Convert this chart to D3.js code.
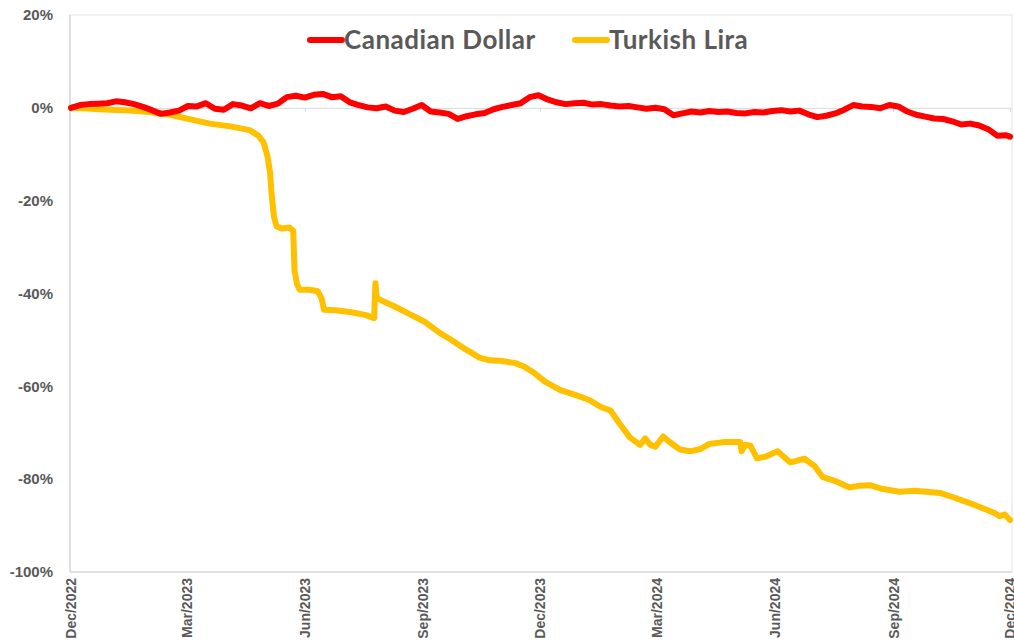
<!DOCTYPE html>
<html>
<head>
<meta charset="utf-8">
<script src="https://cdn.jsdelivr.net/npm/d3@7"></script>
<style>
  body { margin: 0; background: #fff; }
  svg { display: block; font-family: Lato, "Open Sans", sans-serif; }
</style>
</head>
<body>
<svg id="chart" width="1014" height="643"></svg>
<script>
// Canadian Dollar, weekly readings (% change since Dec 2022)
const cadDates = [
  "2022-12-01","2022-12-08","2022-12-15","2022-12-22","2022-12-29","2023-01-05","2023-01-12","2023-01-19","2023-01-26",
  "2023-02-02","2023-02-09","2023-02-16","2023-02-23","2023-03-02","2023-03-09","2023-03-16","2023-03-23","2023-03-30",
  "2023-04-06","2023-04-13","2023-04-20","2023-04-27","2023-05-04","2023-05-11","2023-05-18","2023-05-25","2023-06-01",
  "2023-06-08","2023-06-15","2023-06-22","2023-06-29","2023-07-06","2023-07-13","2023-07-20","2023-07-27","2023-08-03",
  "2023-08-10","2023-08-17","2023-08-24","2023-08-31","2023-09-07","2023-09-14","2023-09-21","2023-09-28","2023-10-05",
  "2023-10-12","2023-10-19","2023-10-26","2023-11-02","2023-11-09","2023-11-16","2023-11-23","2023-11-30","2023-12-07",
  "2023-12-14","2023-12-21","2023-12-28","2024-01-04","2024-01-11","2024-01-18","2024-01-25","2024-02-01","2024-02-08",
  "2024-02-15","2024-02-22","2024-02-29","2024-03-07","2024-03-14","2024-03-21","2024-03-28","2024-04-04","2024-04-11",
  "2024-04-18","2024-04-25","2024-05-02","2024-05-09","2024-05-16","2024-05-23","2024-05-30","2024-06-06","2024-06-13",
  "2024-06-20","2024-06-27","2024-07-04","2024-07-11","2024-07-18","2024-07-25","2024-08-01","2024-08-08","2024-08-15",
  "2024-08-22","2024-08-29","2024-09-05","2024-09-12","2024-09-19","2024-09-26","2024-10-03","2024-10-10","2024-10-17",
  "2024-10-24","2024-10-31","2024-11-07","2024-11-14","2024-11-21","2024-11-28","2024-12-01"
];
const cadValues = [
  0.0, 0.6, 0.8, 0.9, 1.0, 1.4, 1.2, 0.8, 0.2,
  -0.5, -1.3, -1.0, -0.6, 0.4, 0.3, 1.0, -0.2, -0.4,
  0.8, 0.5, -0.1, 1.0, 0.4, 0.9, 2.3, 2.6, 2.2,
  2.8, 3.0, 2.3, 2.5, 1.2, 0.6, 0.1, -0.1, 0.3,
  -0.6, -0.9, -0.2, 0.6, -0.8, -1.0, -1.3, -2.4, -1.8,
  -1.4, -1.1, -0.3, 0.2, 0.6, 1.0, 2.3, 2.7, 1.8,
  1.2, 0.8, 1.0, 1.1, 0.7, 0.8, 0.5, 0.3, 0.4,
  0.1, -0.2, 0.0, -0.3, -1.6, -1.2, -0.8, -1.0, -0.7,
  -0.9, -0.8, -1.1, -1.2, -0.9, -1.0, -0.7, -0.5, -0.8,
  -0.6, -1.4, -2.0, -1.7, -1.2, -0.4, 0.6, 0.3, 0.2,
  -0.1, 0.6, 0.3, -0.8, -1.5, -1.9, -2.3, -2.4, -2.9,
  -3.6, -3.4, -3.8, -4.6, -6.0, -5.9, -6.2
];

// Turkish Lira readings (% change since Dec 2022)
const tryDates = [
  "2022-12-01","2022-12-16","2022-12-31","2023-01-16","2023-01-31","2023-02-16","2023-03-04","2023-03-19","2023-04-04",
  "2023-04-19","2023-04-26","2023-04-30","2023-05-03","2023-05-05","2023-05-06","2023-05-08","2023-05-10","2023-05-14",
  "2023-05-20","2023-05-23","2023-05-24","2023-05-26","2023-05-28","2023-06-05","2023-06-11","2023-06-14","2023-06-16",
  "2023-06-25","2023-07-06","2023-07-18","2023-07-25","2023-07-26","2023-07-27","2023-08-02","2023-08-10","2023-08-22",
  "2023-09-03","2023-09-14","2023-09-22","2023-10-04","2023-10-15","2023-10-23","2023-10-31","2023-11-12","2023-11-19",
  "2023-11-27","2023-12-05","2023-12-17","2023-12-28","2024-01-09","2024-01-17","2024-01-25","2024-02-01","2024-02-09",
  "2024-02-17","2024-02-21","2024-02-25","2024-02-29","2024-03-06","2024-03-11","2024-03-19","2024-03-27","2024-04-04",
  "2024-04-11","2024-04-23","2024-05-05","2024-05-06","2024-05-09","2024-05-13","2024-05-18","2024-05-24","2024-06-03",
  "2024-06-13","2024-06-24","2024-07-02","2024-07-08","2024-07-18","2024-07-29","2024-08-06","2024-08-14","2024-08-22",
  "2024-09-06","2024-09-18","2024-10-08","2024-10-19","2024-11-04","2024-11-19","2024-11-23","2024-11-27","2024-12-01"
];
const tryValues = [
  0.0, -0.2, -0.4, -0.6, -0.9, -1.5, -2.5, -3.4, -4.0,
  -4.8, -6.0, -7.5, -10.5, -14.0, -18.0, -23.5, -25.5, -26.0,
  -25.8, -26.5, -35.0, -38.0, -39.2, -39.2, -39.5, -41.0, -43.5,
  -43.6, -44.0, -44.6, -45.3, -37.8, -41.0, -41.8, -42.8, -44.5,
  -46.2, -48.5, -49.8, -52.0, -53.8, -54.4, -54.5, -55.0, -55.8,
  -57.2, -59.0, -60.8, -61.8, -63.0, -64.4, -65.2, -68.0, -71.0,
  -72.6, -71.2, -72.6, -73.0, -70.8, -72.0, -73.6, -74.0, -73.5,
  -72.4, -72.0, -72.0, -74.0, -72.6, -72.8, -75.5, -75.2, -74.0,
  -76.4, -75.6, -77.2, -79.5, -80.4, -81.8, -81.4, -81.3, -82.0,
  -82.7, -82.5, -83.0, -84.0, -85.6, -87.3, -88.0, -87.6, -88.8
];

const seriesNames = ["Canadian Dollar", "Turkish Lira"];
const seriesColors = ["#ff0000", "#ffc000"];
const yTicks = [20, 0, -20, -40, -60, -80, -100];
const xTicks = ["2022-12-01","2023-03-01","2023-06-01","2023-09-01","2023-12-01","2024-03-01","2024-06-01","2024-09-01","2024-12-01"];

const parse = d3.timeParse("%Y-%m-%d");
const svg = d3.select("#chart");
const plotLeft = 71, plotRight = 1010, plotTop = 15, plotBottom = 572;

const x = d3.scaleTime()
  .domain([parse("2022-12-01"), parse("2024-12-01")])
  .range([plotLeft, plotRight]);
const y = d3.scaleLinear()
  .domain([-100, 20])
  .range([plotBottom, plotTop]);

// plot frame
svg.append("rect")
  .attr("x", plotLeft - 1).attr("y", plotTop)
  .attr("width", plotRight - plotLeft + 3).attr("height", plotBottom - plotTop)
  .attr("fill", "none").attr("stroke", "#e4e4e4");
svg.append("line")
  .attr("x1", plotLeft - 1).attr("x2", plotLeft - 1).attr("y1", plotTop).attr("y2", plotBottom)
  .attr("stroke", "#c9cedd");
svg.append("line")
  .attr("x1", plotLeft - 1).attr("x2", plotRight + 2).attr("y1", plotBottom).attr("y2", plotBottom)
  .attr("stroke", "#c9cedd");

// zero line with small ticks
const zero = svg.append("g").attr("transform", `translate(0,${y(0)})`)
  .call(d3.axisBottom(x).tickValues(xTicks.map(parse)).tickSize(4).tickFormat(""));
zero.select(".domain").attr("stroke", "#d9d9d9");
zero.selectAll(".tick line").attr("stroke", "#d9d9d9");

// y axis
const yAxis = svg.append("g").attr("transform", `translate(${plotLeft - 1},0)`)
  .call(d3.axisLeft(y).tickValues(yTicks).tickSize(0).tickPadding(17).tickFormat(d => d + "%"));
yAxis.select(".domain").remove();
yAxis.selectAll("text")
  .attr("fill", "#595959")
  .style("font-size", "15px")
  .style("font-weight", "bold");

// x axis labels
const xAxis = svg.append("g").attr("transform", `translate(0,${plotBottom})`)
  .call(d3.axisBottom(x).tickValues(xTicks.map(parse)).tickSize(0).tickFormat(d3.timeFormat("%b/%Y")));
xAxis.select(".domain").remove();
xAxis.selectAll("text")
  .attr("transform", "rotate(-90)")
  .attr("x", -6)
  .attr("y", 0)
  .attr("dy", "0.35em")
  .style("text-anchor", "end")
  .attr("fill", "#595959")
  .style("font-size", "14px")
  .style("font-weight", "bold");

// lines
const line = d3.line()
  .x(d => x(d.date))
  .y(d => y(d.value));

const cad = cadDates.map((d, i) => ({ date: parse(d), value: cadValues[i] }));
const tl = tryDates.map((d, i) => ({ date: parse(d), value: tryValues[i] }));

svg.append("path")
  .datum(tl)
  .attr("d", line)
  .attr("fill", "none")
  .attr("stroke", seriesColors[1])
  .attr("stroke-width", 6)
  .attr("stroke-linejoin", "round")
  .attr("stroke-linecap", "round");

svg.append("path")
  .datum(cad)
  .attr("d", line)
  .attr("fill", "none")
  .attr("stroke", seriesColors[0])
  .attr("stroke-width", 6)
  .attr("stroke-linejoin", "round")
  .attr("stroke-linecap", "round");

// legend
const legendX = [310, 575];
const legend = svg.append("g");
seriesNames.forEach((name, i) => {
  const g = legend.append("g").attr("transform", `translate(${legendX[i]},40)`);
  g.append("line")
    .attr("x1", 0).attr("x2", 32)
    .attr("stroke", seriesColors[i])
    .attr("stroke-width", 6)
    .attr("stroke-linecap", "round");
  g.append("text")
    .attr("x", 34)
    .attr("dy", "0.36em")
    .attr("fill", "#595959")
    .style("font-size", "26px")
    .style("letter-spacing", "0.5px")
    .style("font-weight", "bold")
    .text(name);
});
</script>
</body>
</html>
